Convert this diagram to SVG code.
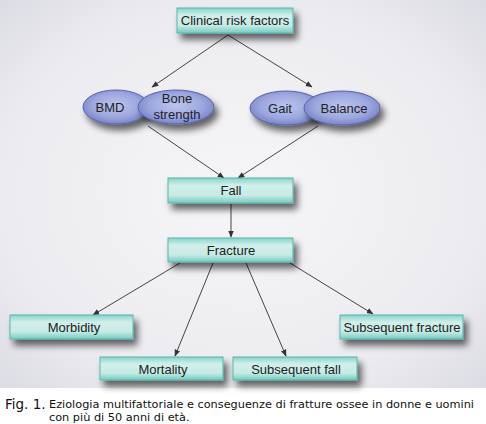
<svg xmlns="http://www.w3.org/2000/svg" width="486" height="424" viewBox="0 0 486 424">
<defs>
<radialGradient id="bg" cx="0.5" cy="0.5" r="0.7">
<stop offset="0" stop-color="#f6f6f8"/>
<stop offset="0.7" stop-color="#ececf0"/>
<stop offset="1" stop-color="#dcdce4"/>
</radialGradient>
<linearGradient id="box" x1="0" y1="0" x2="0" y2="1">
<stop offset="0" stop-color="#86d4cb"/>
<stop offset="0.3" stop-color="#d2efea"/>
<stop offset="0.7" stop-color="#c6ebe5"/>
<stop offset="1" stop-color="#74cbc1"/>
</linearGradient>
<radialGradient id="ell" cx="0.5" cy="0.45" r="0.6">
<stop offset="0" stop-color="#bcc4ee"/>
<stop offset="0.6" stop-color="#9ca7de"/>
<stop offset="1" stop-color="#6f7cc2"/>
</radialGradient>
<filter id="sh" x="-20%" y="-30%" width="150%" height="200%">
<feGaussianBlur in="SourceAlpha" stdDeviation="3.5"/>
<feOffset dx="4" dy="6" result="b"/>
<feComponentTransfer><feFuncA type="linear" slope="0.6"/></feComponentTransfer>
<feMerge><feMergeNode/><feMergeNode in="SourceGraphic"/></feMerge>
</filter>
<marker id="ah" viewBox="0 0 10 10" refX="9" refY="5" markerWidth="7" markerHeight="7" orient="auto" markerUnits="userSpaceOnUse">
<path d="M0,1 L10,5 L0,9 z" fill="#333"/>
</marker>
</defs>
<style>
.b{fill:url(#box);stroke:#58b6ab;stroke-width:1;filter:url(#sh)}
.e{fill:url(#ell);stroke:#5564b0;stroke-width:1;filter:url(#sh)}
.t{font-family:"Liberation Sans",Arial,sans-serif;font-size:13px;fill:#222;text-anchor:middle}
.c{stroke:#444;stroke-width:1;fill:none;marker-end:url(#ah)}
.cap{font-family:"DejaVu Sans",Verdana,sans-serif;fill:#111}
</style>
<rect width="486" height="424" fill="#fff"/>
<rect x="0" y="0" width="486" height="388" fill="url(#bg)"/>
<g id="connectors">
<line class="c" x1="228" y1="35" x2="152" y2="87"/>
<line class="c" x1="228" y1="35" x2="312" y2="87"/>
<line class="c" x1="148" y1="126" x2="224" y2="178"/>
<line class="c" x1="318" y1="126" x2="238" y2="178"/>
<line class="c" x1="231" y1="204" x2="231" y2="237"/>
<line class="c" x1="180" y1="263" x2="93" y2="315"/>
<line class="c" x1="213" y1="263" x2="175" y2="356"/>
<line class="c" x1="246" y1="263" x2="286" y2="356"/>
<line class="c" x1="290" y1="263" x2="373" y2="314"/>
</g>
<g id="clinical"><rect class="b" x="177" y="8" width="116" height="25"/><text class="t" x="235" y="25">Clinical risk factors</text></g>
<g id="bmd"><ellipse class="e" cx="116" cy="107" rx="33" ry="17"/><text class="t" x="110" y="112">BMD</text></g>
<g id="bone"><ellipse class="e" cx="176" cy="107" rx="38" ry="17"/><text class="t" x="177" y="103">Bone</text><text class="t" x="177" y="119">strength</text></g>
<g id="gait"><ellipse class="e" cx="286" cy="108" rx="36" ry="17"/><text class="t" x="280" y="113">Gait</text></g>
<g id="balance"><ellipse class="e" cx="342" cy="108" rx="38" ry="17"/><text class="t" x="344" y="113">Balance</text></g>
<g id="fall"><rect class="b" x="168" y="178" width="125" height="25"/><text class="t" x="231" y="195">Fall</text></g>
<g id="fracture"><rect class="b" x="168" y="238" width="125" height="24"/><text class="t" x="231" y="255">Fracture</text></g>
<g id="morbidity"><rect class="b" x="10" y="315" width="123" height="24"/><text class="t" x="74" y="332">Morbidity</text></g>
<g id="subfracture"><rect class="b" x="340" y="315" width="123" height="24"/><text class="t" x="402" y="332">Subsequent fracture</text></g>
<g id="mortality"><rect class="b" x="100" y="357" width="123" height="23"/><text class="t" x="163" y="374">Mortality</text></g>
<g id="subfall"><rect class="b" x="233" y="357" width="124" height="23"/><text class="t" x="296" y="374">Subsequent fall</text></g>
<g id="caption">
<text class="cap" x="5" y="409" font-size="13.5">Fig. 1.</text>
<text class="cap" x="49" y="408" font-size="11.3">Eziologia multifattoriale e conseguenze di fratture ossee in donne e uomini</text>
<text class="cap" x="49" y="421" font-size="11.3">con più di 50 anni di età.</text>
</g>
</svg>
